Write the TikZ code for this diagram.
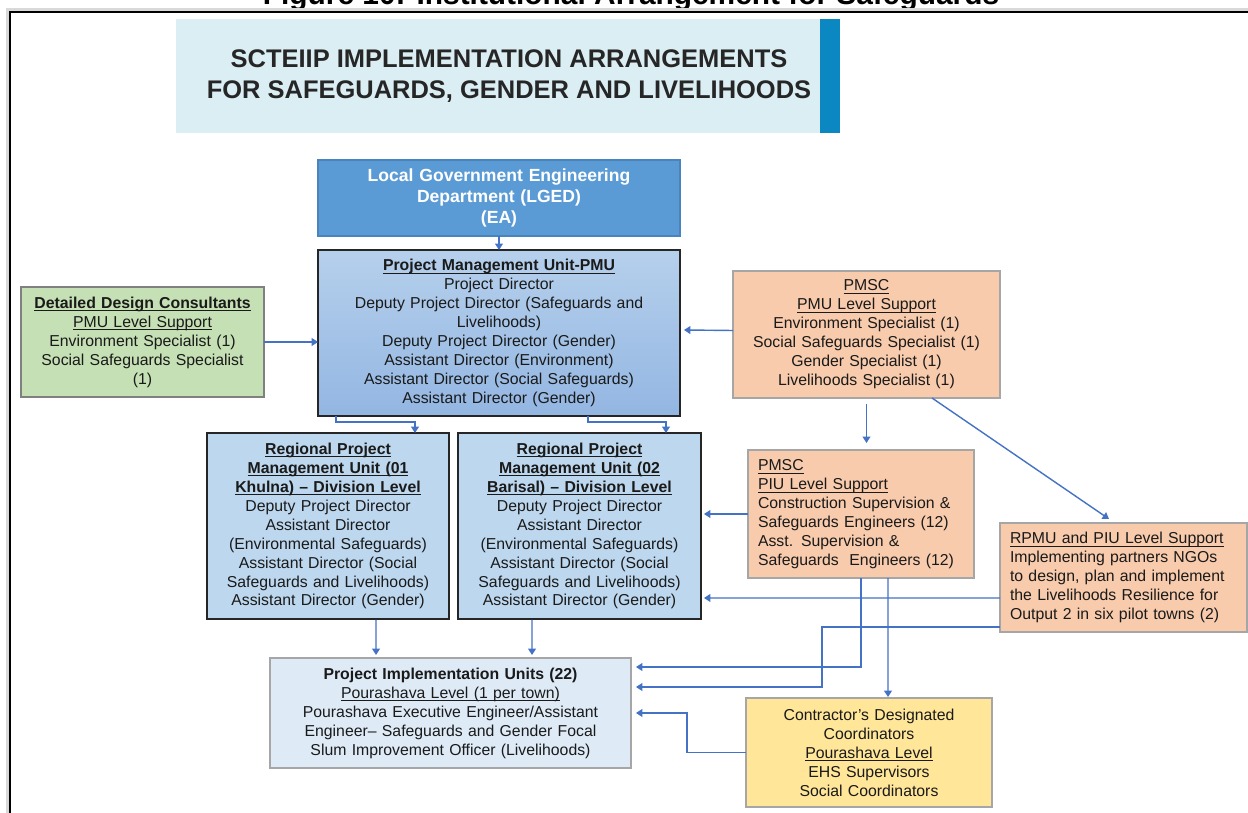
\documentclass[tikz,border=0pt]{standalone}
\usepackage{fontspec}
\setmainfont{Liberation Sans}
\usepackage{xcolor}
\usepackage{tikz}
\usetikzlibrary{positioning,calc,arrows.meta}
\definecolor{TitleCyan}{HTML}{DAEEF3}
\definecolor{StripeBlue}{HTML}{0B87C2}
\definecolor{LGEDBlue}{HTML}{5B9BD5}
\definecolor{LGEDLine}{HTML}{4A84BC}
\definecolor{PMUTop}{HTML}{B6D0EC}
\definecolor{PMUBottom}{HTML}{93B6E2}
\definecolor{RPMUBlue}{HTML}{BDD7EE}
\definecolor{PIUBlue}{HTML}{DEEBF7}
\definecolor{DDCGreen}{HTML}{C5E0B4}
\definecolor{PMSCOrange}{HTML}{F8CBAD}
\definecolor{ContrYellow}{HTML}{FFE699}
\definecolor{BoxDark}{HTML}{262626}
\definecolor{BoxGray}{HTML}{A6A6A6}
\definecolor{ArrowBlue}{HTML}{4472C4}
\definecolor{TextDark}{HTML}{1A1A1A}
\newcommand{\undl}[1]{\underline{\smash{#1}}\vphantom{#1}}
\tikzset{
    unitbox/.style={rectangle, draw=BoxDark, line width=0.8pt, inner sep=0pt, outer sep=0pt, align=center, text=TextDark, font=\fontsize{9}{10.8}\selectfont},
    supportbox/.style={rectangle, draw=BoxGray, line width=0.7pt, inner sep=0pt, outer sep=0pt, align=center, text=TextDark, font=\fontsize{9}{10.8}\selectfont}
}

\begin{document}
\begin{tikzpicture}[
        x=0.02cm, y=-0.02cm,
        % --- STYLE ---
        % Duong noi co mui ten
        conn/.style={
            draw=ArrowBlue,
            line width=0.8pt,
            -{Triangle[length=3.6pt, width=4.4pt]}
        },
        % Chu tieu de
        titletext/.style={
            inner sep=0pt, align=center, text=BoxDark,
            font=\fontsize{14.5}{17.6}\selectfont\bfseries
        },
        % Hop ben trai canh le trai
        leftbox/.style={
            supportbox, align=left, inner xsep=0.2cm
        }
    ]

        \useasboundingbox (0,0) rectangle (1248,813);

        % --- KHUNG & CHU THICH ---
        \node[font=\fontsize{17}{20}\selectfont\bfseries, anchor=base] (cap) at (631,5)
            {Figure 10: Institutional Arrangement for Safeguards};
        \draw[black!15, line width=1.2pt] (7.5,813) -- (7.5,9.5) -- (1248,9.5);
        \draw[black, line width=1.4pt] (10,813) -- (10,12) -- (1248,12);

        % --- TIEU DE ---
        \fill[TitleCyan] (176,19) rectangle (820,133);
        \fill[StripeBlue] (820,19) rectangle (840,133);
        \node[titletext] (title) at (509,76)
            {SCTEIIP IMPLEMENTATION ARRANGEMENTS\\FOR SAFEGUARDS, GENDER AND LIVELIHOODS};

        % --- CAC HOP ---
        \node[unitbox, draw=LGEDLine, fill=LGEDBlue, text=white, text width=7.24cm, minimum height=1.52cm,
              font=\fontsize{10}{12}\selectfont\bfseries] (lged) at (499,198)
            {Local Government Engineering\\Department (LGED)\\(EA)};

        \node[unitbox, top color=PMUTop, bottom color=PMUBottom, text width=7.24cm, minimum height=3.32cm] (pmu) at (499,333)
            {\undl{\textbf{Project Management Unit-PMU}}\\Project Director\\Deputy Project Director (Safeguards and\\Livelihoods)\\Deputy Project Director (Gender)\\Assistant Director (Environment)\\Assistant Director (Social Safeguards)\\Assistant Director (Gender)};

        \node[supportbox, draw=black!50, fill=DDCGreen, text width=4.86cm, minimum height=2.2cm] (ddc) at (142.5,342)
            {\undl{\textbf{Detailed Design Consultants}}\\\undl{PMU Level Support}\\Environment Specialist (1)\\Social Safeguards Specialist\\(1)};

        \node[supportbox, fill=PMSCOrange, text width=5.34cm, minimum height=2.54cm] (pmsc1) at (866.5,334.5)
            {\undl{PMSC}\\\undl{PMU Level Support}\\Environment Specialist (1)\\Social Safeguards Specialist (1)\\Gender Specialist (1)\\Livelihoods Specialist (1)};

        \node[unitbox, fill=RPMUBlue, text width=4.84cm, minimum height=3.72cm] (rpmu1) at (328,526)
            {\undl{\textbf{Regional Project}}\\\undl{\textbf{Management Unit (01}}\\\undl{\textbf{Khulna) – Division Level}}\\Deputy Project Director\\Assistant Director\\(Environmental Safeguards)\\Assistant Director (Social\\Safeguards and Livelihoods)\\Assistant Director (Gender)};

        \node[unitbox, fill=RPMUBlue, text width=4.86cm, minimum height=3.72cm] (rpmu2) at (579.5,526)
            {\undl{\textbf{Regional Project}}\\\undl{\textbf{Management Unit (02}}\\\undl{\textbf{Barisal) – Division Level}}\\Deputy Project Director\\Assistant Director\\(Environmental Safeguards)\\Assistant Director (Social\\Safeguards and Livelihoods)\\Assistant Director (Gender)};

        \node[leftbox, fill=PMSCOrange, text width=4.12cm, minimum height=2.56cm] (pmsc2) at (861,514)
            {\undl{PMSC}\\\undl{PIU Level Support}\\Construction Supervision \&\\Safeguards Engineers (12)\\Asst. Supervision \&\\Safeguards\ \ Engineers (12)};

        \node[leftbox, fill=PMSCOrange, text width=4.54cm, minimum height=2.18cm] (rpmu) at (1123.5,577.5)
            {\undl{RPMU and PIU Level Support}\\Implementing partners NGOs\\to design, plan and implement\\the Livelihoods Resilience for\\Output 2 in six pilot towns (2)};

        \node[supportbox, fill=PIUBlue, text width=7.22cm, minimum height=2.2cm] (piu) at (450.5,713)
            {\textbf{Project Implementation Units (22)}\\\undl{Pourashava Level (1 per town)}\\Pourashava Executive Engineer/Assistant\\Engineer– Safeguards and Gender Focal\\Slum Improvement Officer (Livelihoods)};

        \node[supportbox, fill=ContrYellow, text width=4.92cm, minimum height=2.18cm] (contr) at (869,752.5)
            {Contractor’s Designated\\Coordinators\\\undl{Pourashava Level}\\EHS Supervisors\\Social Coordinators};

        % --- DUONG NOI ---
        \draw[conn] (lged) -- (pmu);
        \draw[conn] (ddc.east) -- (pmu.west |- ddc.east);
        \draw[conn] ($(pmsc1.west)+(0,-4)$) -- ($(pmu.east)+(4,-3)$);
        \draw[conn] ($(pmu.south west)+(18,0)$) -- ++(0,6) -| ($(rpmu1.north east)+(-34,0)$);
        \draw[conn] ($(pmu.south east)+(-92,0)$) -- ++(0,6) -| ($(rpmu2.north east)+(-35,0)$);
        \draw[conn, shorten <=3.4pt, shorten >=4pt] (pmsc1.south) -- (pmsc1.south |- pmsc2.north);
        \draw[conn] ($(pmsc1.south east)+(-68,0)$) -- ($(rpmu.north west)+(109,-4)$);
        \draw[conn] (pmsc2.west) -- ($(rpmu2.east)+(3,-12)$);
        \draw[conn] ($(rpmu.south west)+(0,-34)$) -- ($(rpmu2.south east)+(3,-21)$);
        \draw[conn] ($(pmsc2.south west)+(113,0)$) |- ($(piu.north east)+(5,9)$);
        \draw[conn] ($(rpmu.south west)+(0,-5)$) -| ($(piu.north east)+(191,29)$) -- ($(piu.north east)+(5,29)$);
        \draw[conn] ($(pmsc2.south west)+(140,0)$) -- ($(contr.north west)+(142,-1)$);
        \draw[conn] (contr.west) -| ($(piu.east)+(56,0)$) -- ($(piu.east)+(5,0)$);
        \draw[conn] ($(rpmu1.south west)+(169,1)$) -- ($(piu.north west)+(106,-3)$);
        \draw[conn] ($(rpmu2.south west)+(74,1)$) -- ($(piu.north west)+(262,-3)$);

    \end{tikzpicture}
\end{document}
